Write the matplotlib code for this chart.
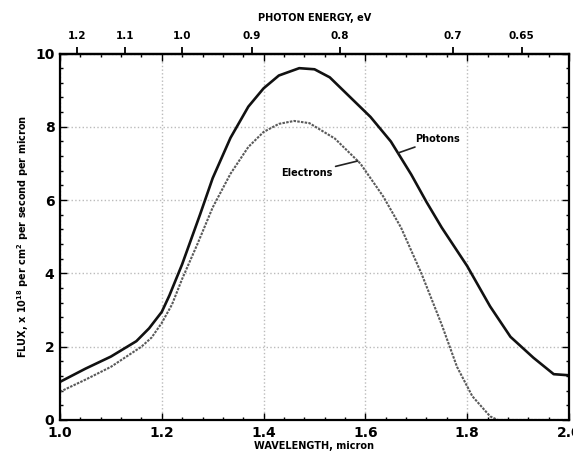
import numpy as np
import matplotlib
matplotlib.use("Agg")
import matplotlib.pyplot as plt
from matplotlib.ticker import MultipleLocator

plt.rcParams['font.family'] = ['DejaVu Sans']
plt.rcParams['font.weight'] = 'bold'

# spectral flux, 1e18 per cm^2 per second per micron
photon_wl = [1.00, 1.05, 1.10, 1.15, 1.175, 1.20, 1.215, 1.24, 1.275, 1.30, 1.335,
             1.37, 1.40, 1.43, 1.47, 1.50, 1.53, 1.57, 1.61, 1.65, 1.69, 1.72,
             1.75, 1.80, 1.845, 1.885, 1.93, 1.97, 2.00]
photon_flux = [1.04, 1.40, 1.73, 2.15, 2.50, 2.95, 3.40, 4.25, 5.60, 6.60, 7.70,
               8.55, 9.05, 9.40, 9.60, 9.57, 9.35, 8.81, 8.27, 7.60, 6.70, 5.95,
               5.25, 4.20, 3.10, 2.27, 1.70, 1.25, 1.22]

electron_wl = [1.00, 1.05, 1.10, 1.16, 1.18, 1.20, 1.22, 1.24, 1.27, 1.30, 1.335,
               1.37, 1.40, 1.43, 1.46, 1.49, 1.54, 1.59, 1.635, 1.67, 1.71, 1.75,
               1.78, 1.81, 1.845, 1.86, 2.00]
electron_flux = [0.77, 1.10, 1.45, 2.00, 2.25, 2.65, 3.15, 3.85, 4.80, 5.80, 6.72,
                 7.45, 7.86, 8.08, 8.16, 8.10, 7.68, 7.00, 6.10, 5.25, 4.00, 2.60,
                 1.45, 0.65, 0.10, 0.00, 0.00]

energy_ticks = [1.2, 1.1, 1.0, 0.9, 0.8, 0.7, 0.65]
energy_labels = ['1.2', '1.1', '1.0', '0.9', '0.8', '0.7', '0.65']
HC = 1.2398  # eV * micron

fig = plt.figure(figsize=(5.73, 4.59), dpi=100)
ax = fig.add_axes([0.1047, 0.085, 0.8883, 0.7984])

ax.plot(photon_wl, photon_flux, color='#111111', lw=1.9)
ax.plot(electron_wl, electron_flux, color='#5a5a5a', lw=1.5, ls=(0, (1.2, 0.6)))

ax.set_xlim(1.0, 2.0)
ax.set_ylim(0, 10)
ax.xaxis.set_major_locator(MultipleLocator(0.2))
ax.xaxis.set_minor_locator(MultipleLocator(0.04))
ax.yaxis.set_major_locator(MultipleLocator(2))
ax.yaxis.set_minor_locator(MultipleLocator(0.4))
ax.set_xticks([1.0, 1.2, 1.4, 1.6, 1.8, 2.0], ['1.0', '1.2', '1.4', '1.6', '1.8', '2.0'])
ax.tick_params(which='both', direction='in', top=True, right=True, width=1, labelsize=10)
ax.tick_params(which='major', length=5)
ax.tick_params(which='minor', length=2.5)
ax.tick_params(axis='x', pad=4)
ax.tick_params(axis='y', pad=4)
ax.grid(True, which='major', color='#bbbbbb', ls=':', lw=1)
for s in ax.spines.values():
    s.set_linewidth(1.6)

ax.set_xlabel('WAVELENGTH, micron', fontsize=7, fontweight='bold', labelpad=1)
ax.set_ylabel(r'FLUX, x 10$^{\mathbf{18}}$ per cm$^{\mathbf{2}}$ per second per micron',
              fontsize=7, fontweight='bold', labelpad=3)

top = ax.secondary_xaxis('top', functions=(lambda w: HC / w, lambda e: HC / e))
top.set_xticks(energy_ticks, energy_labels)
top.tick_params(direction='out', length=5, width=1.3, labelsize=7.5, pad=4)
top.xaxis.set_minor_locator(plt.NullLocator())
top.spines['top'].set_linewidth(1.6)
top.set_xlabel('PHOTON ENERGY, eV', fontsize=7, fontweight='bold', labelpad=7)

p_xy = (1.664, np.interp(1.664, photon_wl, photon_flux))
ax.annotate('Photons', xy=p_xy, xytext=(1.697, 7.66), fontsize=7, fontweight='bold',
            va='center', ha='left',
            arrowprops=dict(arrowstyle='-', color='#222222', lw=1.2, shrinkA=0, shrinkB=0))
e_xy = (1.585, np.interp(1.585, electron_wl, electron_flux))
ax.annotate('Electrons', xy=e_xy, xytext=(1.536, 6.73), fontsize=7, fontweight='bold',
            va='center', ha='right',
            arrowprops=dict(arrowstyle='-', color='#222222', lw=1.2, shrinkA=0, shrinkB=0))

fig.savefig('out.png', dpi=100)
